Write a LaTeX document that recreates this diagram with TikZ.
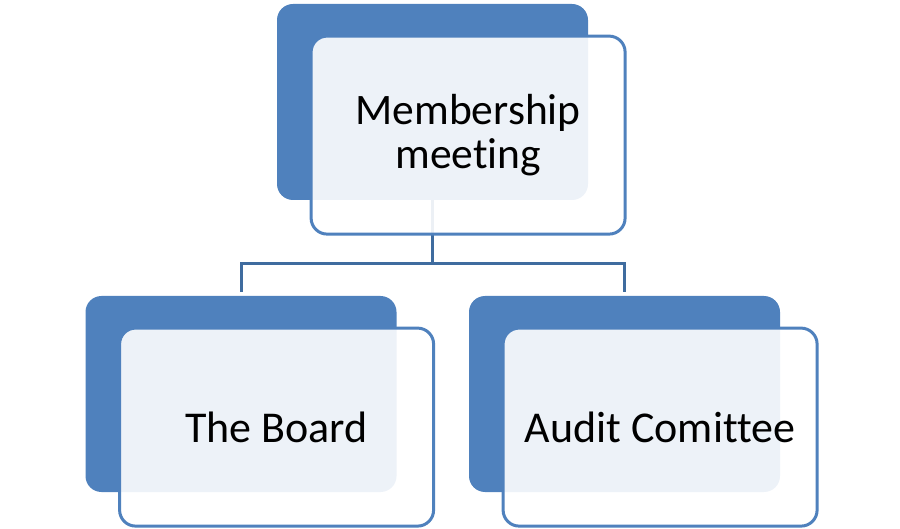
\documentclass[tikz,border=0pt]{standalone}
\usepackage{fontspec}
\setmainfont[Ligatures=NoCommon]{Carlito}
\usepackage{xcolor}
\usetikzlibrary{positioning}

\definecolor{orgblue}{HTML}{4F81BD}
\definecolor{linkblue}{HTML}{3F6C9F}

\begin{document}
\begin{tikzpicture}[
    back/.style={rectangle, rounded corners=8pt, fill=orgblue, minimum width=155.5pt, minimum height=98pt},
    front/.style={rectangle, rounded corners=8pt, draw=orgblue, line width=1.5pt, fill=white, fill opacity=0.9, text opacity=1, minimum width=157pt, minimum height=99pt, align=center},
    link/.style={draw=linkblue, line width=1.5pt}
]
\useasboundingbox (0,0) rectangle (450pt,-264.5pt);

\node[back] (meet-back) at (216.25pt,-51pt) {};
\node[back] (board-back) at (120.5pt,-197pt) {};
\node[back] (audit-back) at (312.25pt,-197pt) {};

\draw[link] (meet-back.south) -- ++(0,-31.5pt) coordinate (split);
\draw[link, shorten >=2pt] (split) -| (board-back.north);
\draw[link, shorten >=2pt] (split) -| (audit-back.north);

\node[front, below right=15.5pt and 16.5pt of meet-back.north west, font=\fontsize{21.75pt}{22pt}\selectfont] (meet) {Membership\\meeting};
\node[front, below right=15.5pt and 16.5pt of board-back.north west, font=\fontsize{22pt}{24pt}\selectfont] (board) {The Board};
\node[front, below right=15.5pt and 16.5pt of audit-back.north west, font=\fontsize{22pt}{24pt}\selectfont] (audit) {Audit Comittee};

\end{tikzpicture}
\end{document}
